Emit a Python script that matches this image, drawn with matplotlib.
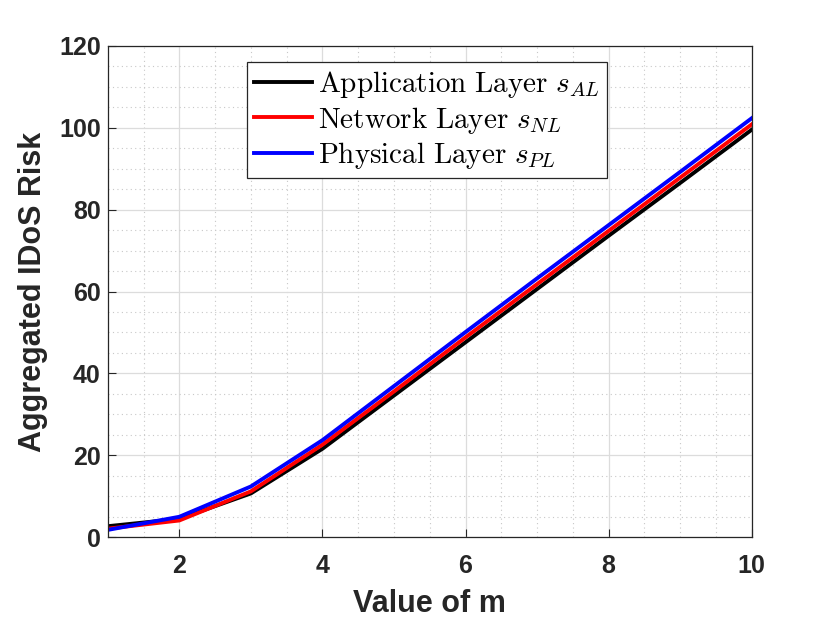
import numpy as np
import matplotlib
matplotlib.use('Agg')
import matplotlib.pyplot as plt
from matplotlib.ticker import MultipleLocator

# values
m_values = [1, 2, 3, 4, 5, 6, 7, 8, 9, 10]
risk_al = [2.7, 4.5, 10.7, 21.6, 34.6, 47.6, 60.6, 73.6, 86.5, 99.5]
risk_nl = [2.1, 4.1, 11.2, 22.6, 35.6, 48.8, 61.8, 74.8, 87.8, 100.8]
risk_pl = [1.8, 5.0, 12.4, 23.7, 36.9, 50.1, 63.2, 76.2, 89.2, 102.3]

labels = [r'$\mathrm{Application\ Layer}\ s_{AL}$',
          r'$\mathrm{Network\ Layer}\ s_{NL}$',
          r'$\mathrm{Physical\ Layer}\ s_{PL}$']
colors = ['black', 'red', 'blue']

plt.rcParams['mathtext.fontset'] = 'cm'
plt.rcParams['font.family'] = ['Liberation Sans', 'DejaVu Sans']

fig = plt.figure(figsize=(8.3, 6.23), dpi=100)
ax = fig.add_axes([0.1298, 0.1376, 0.7759, 0.789])

for y, c, lab in zip([risk_al, risk_nl, risk_pl], colors, labels):
    ax.plot(m_values, y, color=c, linewidth=2.8, label=lab)

ax.set_xlim(1, 10)
ax.set_ylim(0, 120)
ax.xaxis.set_major_locator(MultipleLocator(2))
ax.xaxis.set_minor_locator(MultipleLocator(0.5))
ax.yaxis.set_major_locator(MultipleLocator(20))
ax.yaxis.set_minor_locator(MultipleLocator(5))

ax.grid(which='major', color='#dcdcdc', linestyle='-', linewidth=0.9)
ax.grid(which='minor', color='#c8c8c8', linestyle=(0, (1, 3)), linewidth=0.8)
ax.set_axisbelow(True)

ax.tick_params(which='both', direction='in', colors='#262626', labelsize=18)
ax.tick_params(which='major', length=6, pad=5)
ax.tick_params(axis='x', which='major', pad=12)
ax.tick_params(which='minor', length=0)
for lbl in ax.get_xticklabels() + ax.get_yticklabels():
    lbl.set_fontweight('bold')
for sp in ax.spines.values():
    sp.set_color('#262626')
    sp.set_linewidth(0.9)

ax.set_xlabel('Value of m', fontsize=22, fontweight='bold', color='#262626', labelpad=8)
ax.set_ylabel('Aggregated IDoS Risk', fontsize=22, fontweight='bold', color='#262626', labelpad=8)

leg = ax.legend(loc='upper left', bbox_to_anchor=(0.216, 0.967), borderaxespad=0,
                fontsize=21, handlelength=2.0, handletextpad=0.2, labelspacing=0.15,
                borderpad=0.25, fancybox=False, framealpha=1)
leg.get_frame().set_edgecolor('#262626')
leg.get_frame().set_linewidth(0.9)

fig.savefig('out.png', dpi=100)
